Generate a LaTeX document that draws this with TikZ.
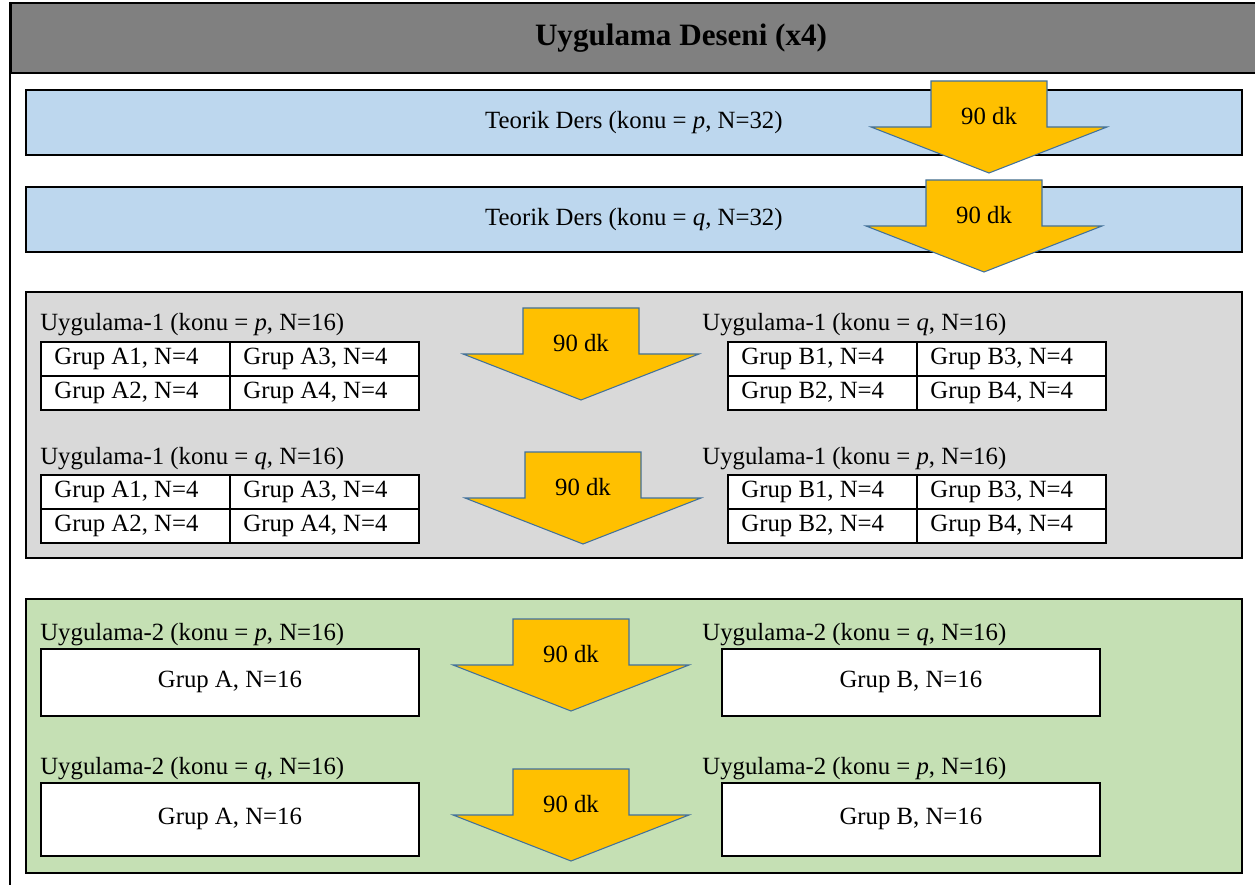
\documentclass[tikz,border=0pt]{standalone}
\usepackage{fontspec}
\setmainfont{Liberation Serif}
\usetikzlibrary{positioning}

\definecolor{headgray}{HTML}{808080}
\definecolor{teoblue}{HTML}{BDD7EE}
\definecolor{panelgray}{HTML}{D9D9D9}
\definecolor{panelgreen}{HTML}{C5E0B4}
\definecolor{dkgold}{HTML}{FFC000}
\definecolor{dkedge}{HTML}{41719C}

\begin{document}
\begin{tikzpicture}[
  x=0.2mm, y=-0.2mm,
  every node/.style={font=\fontsize{14.1}{16}\selectfont, inner sep=0pt},
  frame/.style={draw, line width=1.1pt},
  panel/.style={draw, line width=1pt, anchor=north west, inner sep=0pt},
  cell/.style={draw, line width=1pt, fill=white, anchor=north west, minimum height=6.8mm,
    text width=32.4mm, inner xsep=2.7mm, align=flush left},
  bigcell/.style={draw, line width=1pt, fill=white, anchor=north west,
    minimum width=75.6mm, minimum height=13.4mm},
  lbl/.style={anchor=base west},
  dk/.pic={
    \draw[fill=dkgold, draw=dkedge, line width=0.6pt]
      (-58,0) -- (58,0) -- (58,46) -- (118,46) -- (0,92) -- (-118,46) -- (-58,46) -- cycle;
    \node (-txt) at (0,35) {90 dk};
  }
]
\useasboundingbox (0,0) rectangle (1255,885);

% ============================================================
% HEADER + outer frame
% ============================================================

\draw[frame] (10,2) -- (10,890);
\node[frame, fill=headgray, anchor=north west, minimum width=250mm, minimum height=14mm] (head) at (10,2) {};
\node[font=\fontsize{17.7}{20}\selectfont\bfseries] (title) at (681,38) {Uygulama Deseni (x4)};

% ============================================================
% THEORY LECTURES
% ============================================================

\node[panel, fill=teoblue, minimum width=243.2mm, minimum height=13mm] (teoP) at (25,89) {};
\node (teoPtxt) at (teoP.center) {Teorik Ders (konu = \textit{p}, N=32)};
\node[panel, fill=teoblue, minimum width=243.2mm, minimum height=13mm] (teoQ) at (25,186) {};
\node (teoQtxt) at (teoQ.center) {Teorik Ders (konu = \textit{q}, N=32)};

\pic (ar1) at (989,81) {dk};
\pic (ar2) at (984,180) {dk};

% ============================================================
% UYGULAMA-1 (gray panel)
% ============================================================

\node[panel, fill=panelgray, minimum width=243.2mm, minimum height=53.2mm] (uyg1) at (25,291) {};

\foreach \tx/\ty/\g/\nm in {40/341/A/tA1, 727/341/B/tB1, 40/474/A/tA2, 727/474/B/tB2} {
  \node[cell] (\nm-1) at (\tx,\ty) {Grup \g1, N=4};
  \node[cell] (\nm-3) at (\tx+189,\ty) {Grup \g3, N=4};
  \node[cell] (\nm-2) at (\tx,\ty+34) {Grup \g2, N=4};
  \node[cell] (\nm-4) at (\tx+189,\ty+34) {Grup \g4, N=4};
}

\node[lbl, above=2mm of tA1-1.north west, anchor=base west] (labA1) {Uygulama-1 (konu = \textit{p}, N=16)};
\node[lbl, above=2mm of tB1-1.north west, anchor=base west, xshift=-5mm] (labB1) {Uygulama-1 (konu = \textit{q}, N=16)};
\node[lbl, above=2mm of tA2-1.north west, anchor=base west] (labA2) {Uygulama-1 (konu = \textit{q}, N=16)};
\node[lbl, above=2mm of tB2-1.north west, anchor=base west, xshift=-5mm] (labB2) {Uygulama-1 (konu = \textit{p}, N=16)};

\pic (ar3) at (581,308) {dk};
\pic (ar4) at (583,452) {dk};

% ============================================================
% UYGULAMA-2 (green panel)
% ============================================================

\node[panel, fill=panelgreen, minimum width=243.2mm, minimum height=54.8mm] (uyg2) at (25,598) {};

\node[bigcell] (gA1) at (40,648) {Grup A, N=16};
\node[bigcell] (gB1) at (721,648) {Grup B, N=16};
\node[bigcell, minimum height=14.6mm] (gA2) at (40,782) {Grup A, N=16};
\node[bigcell, minimum height=14.6mm] (gB2) at (721,782) {Grup B, N=16};

\node[lbl, above=1.6mm of gA1.north west, anchor=base west] (labA3) {Uygulama-2 (konu = \textit{p}, N=16)};
\node[lbl, above=1.6mm of gB1.north west, anchor=base west, xshift=-3.8mm] (labB3) {Uygulama-2 (konu = \textit{q}, N=16)};
\node[lbl, above=1.6mm of gA2.north west, anchor=base west] (labA4) {Uygulama-2 (konu = \textit{q}, N=16)};
\node[lbl, above=1.6mm of gB2.north west, anchor=base west, xshift=-3.8mm] (labB4) {Uygulama-2 (konu = \textit{p}, N=16)};

\pic (ar5) at (571,619) {dk};
\pic (ar6) at (571,769) {dk};

\end{tikzpicture}
\end{document}
